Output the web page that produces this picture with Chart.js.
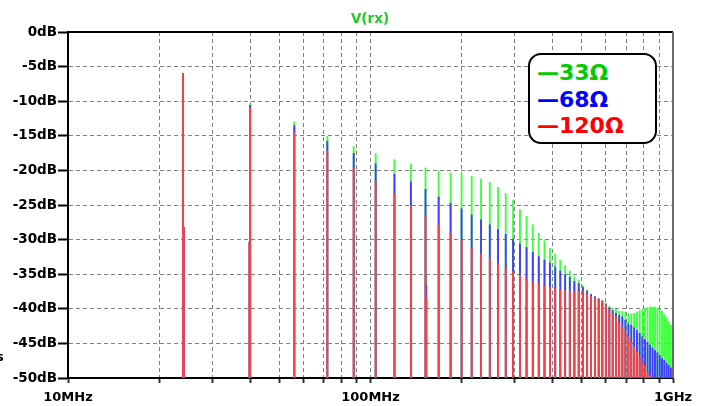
<!DOCTYPE html>
<html>
<head>
<meta charset="utf-8">
<script src="https://cdn.jsdelivr.net/npm/chart.js@4.4.1/dist/chart.umd.min.js"></script>
<style>
  body { margin: 0; background: #fff; }
  #wrap { position: relative; width: 703px; height: 406px; overflow: hidden; }
  #plot { position: absolute; left: 0; top: 0; }
  .txt { position: absolute; font-family: "DejaVu Sans", sans-serif; font-weight: bold; white-space: nowrap; }
  #title { left: 270px; width: 200px; top: 12px; text-align: center; font-size: 13.5px; line-height: 13px; color: #22cc22; }
  #legend { left: 528px; top: 53px; width: 125px; height: 87px; border: 2px solid #000; border-radius: 13px; background: #fff; }
  #legend div { font-size: 22px; line-height: 26.5px; padding-left: 7px; }
  #legend div:first-child { margin-top: 5px; }
  #cut { left: -4px; top: 350px; font-size: 13px; line-height: 13px; color: #000; }
</style>
</head>
<body>
<div id="wrap">
  <canvas id="plot" width="703" height="406"></canvas>
  <div class="txt" id="title">V(rx)</div>
  <div class="txt" id="legend">
    <div style="color:#00cc00">—33Ω</div>
    <div style="color:#0000ff">—68Ω</div>
    <div style="color:#ff0000">—120Ω</div>
  </div>
  <div class="txt" id="cut">s</div>
</div>
<script>
// spectrum lines (odd harmonics of 8MHz), values in dB
const freqMHz = [24, 40, 56, 72, 88, 104, 120, 136, 152, 168, 184, 200, 216, 232, 248, 264,
    280, 296, 312, 328, 344, 360, 376, 392, 408, 424, 440, 456, 472, 488, 504, 520,
    536, 552, 568, 584, 600, 616, 632, 648, 664, 680, 696, 712, 728, 744, 760, 776,
    792, 808, 824, 840, 856, 872, 888, 904, 920, 936, 952, 968, 984, 1000];

const green33 = [-5.9, -10.3, -12.9, -15.0, -16.5, -17.5, -18.4, -19.0, -19.6, -20.0, -20.3, -20.4, -20.8, -21.2, -21.7, -22.4,
    -23.3, -24.3, -25.6, -26.6, -27.8, -29.0, -30.1, -31.2, -32.0, -32.9, -33.7, -34.5, -35.3, -35.8, -36.6, -37.2,
    -37.8, -38.2, -38.5, -38.8, -39.1, -39.6, -39.9, -40.0, -40.3, -40.3, -40.4, -40.6, -40.7, -40.6, -40.4, -40.2,
    -40.0, -39.9, -39.8, -39.7, -39.7, -39.7, -39.8, -40.0, -40.3, -40.8, -41.3, -41.8, -42.3, -43.0];

const blue68 = [-5.95, -10.55, -13.5, -15.75, -17.5, -19.0, -20.5, -21.6, -22.7, -23.8, -24.7, -25.5, -26.4, -27.1, -27.8, -28.5,
    -29.2, -29.9, -30.6, -31.1, -31.8, -32.4, -32.9, -33.3, -33.9, -34.5, -35.0, -35.4, -36.0, -36.3, -36.9, -37.4,
    -37.9, -38.2, -38.5, -38.8, -39.3, -39.8, -40.2, -40.6, -40.9, -41.1, -41.6, -42.1, -42.3, -42.7, -43.1, -43.5,
    -44.0, -44.4, -44.8, -45.2, -45.6, -46.0, -46.3, -46.7, -47.1, -47.4, -47.8, -48.1, -48.5, -48.8];

const red120 = [-6.0, -10.9, -14.55, -17.15, -19.6, -21.5, -23.4, -25.0, -26.6, -27.8, -29.05, -30.05, -31.1, -32.0, -32.7, -33.4,
    -34.1, -34.6, -35.1, -35.6, -36.1, -36.4, -36.6, -36.8, -37.0, -37.2, -37.3, -37.4, -37.5, -37.5, -37.4, -37.8,
    -38.2, -38.4, -38.6, -38.9, -39.4, -40.2, -40.7, -41.1, -41.9, -42.6, -43.3, -44.0, -44.8, -45.5, -46.2, -46.9,
    -47.6, -48.3, -49.0, -49.6, null, null, null, null, null, null, null, null, null, null];

// small side lines next to some harmonics
const sideFreqMHz = [24.15, 39.8, 152.9];
const sideGreen33 = [-28.2, -30.3, -35.0];
const sideBlue68 = [-28.2, -30.3, -36.6];
const sideRed120 = [-28.2, -30.5, -38.4];

// axis ticks
const xGridMHz = [10, 20, 30, 40, 50, 60, 70, 80, 90, 100, 200, 300, 400, 500, 600, 700, 800, 900, 1000];
const xLabelMHz = [10, 100, 1000];
const xLabelText = ['10MHz', '100MHz', '1GHz'];
const yTickDb = [0, -5, -10, -15, -20, -25, -30, -35, -40, -45, -50];

const floorDb = -50;

function lines(freqs, vals, sideFreqs, sideVals) {
    var out = [];
    freqs.forEach(function (f, i) {
        if (vals[i] !== null) out.push({ x: f, y: [floorDb, vals[i]] });
    });
    sideFreqs.forEach(function (f, i) {
        out.push({ x: f, y: [floorDb, sideVals[i]] });
    });
    return out;
}

const axisFont = { family: 'DejaVu Sans', weight: 'bold', size: 13 };

// top and right frame lines
const framePlugin = {
    id: 'frame',
    afterDraw(chart) {
        const ctx = chart.ctx;
        const a = chart.chartArea;
        ctx.save();
        ctx.lineWidth = 2;
        ctx.strokeStyle = '#000';
        ctx.beginPath();
        ctx.moveTo(a.left - 1, a.top);
        ctx.lineTo(a.right, a.top);
        ctx.stroke();
        ctx.strokeStyle = '#6a6a6a';
        ctx.beginPath();
        ctx.moveTo(a.right, a.top);
        ctx.lineTo(a.right, a.bottom);
        ctx.stroke();
        ctx.restore();
    }
};

function lineSet(label, data, color, order) {
    return {
        label: label,
        data: data,
        backgroundColor: color,
        barThickness: 1.9,
        inflateAmount: 0,
        borderWidth: 0,
        order: order
    };
}

// chart constructor
const plotCtx = document.getElementById('plot');
var spectrumChart = new Chart(plotCtx, {
    type: 'bar',
    data: {
        datasets: [
            lineSet('120Ω', lines(freqMHz, red120, sideFreqMHz, sideRed120), '#ff3f3f', 1),
            lineSet('68Ω', lines(freqMHz, blue68, sideFreqMHz, sideBlue68), '#3f3fff', 2),
            lineSet('33Ω', lines(freqMHz, green33, sideFreqMHz, sideGreen33), '#3fff3f', 3)
        ]
    },
    options: {
        responsive: false,
        animation: false,
        events: [],
        devicePixelRatio: 1,
        layout: { padding: { top: 32, right: 30, left: 0, bottom: 0 } },
        plugins: {
            legend: { display: false },
            title: { display: false },
            tooltip: { enabled: false }
        },
        scales: {
            x: {
                type: 'logarithmic',
                min: 10,
                max: 1000,
                stacked: true,
                offset: false,
                afterBuildTicks: function (axis) {
                    axis.ticks = xGridMHz.map(function (v) { return { value: v }; });
                },
                afterFit: function (axis) { axis.height = 28; },
                grid: { offset: false, color: '#808080', lineWidth: 1, tickColor: '#333', tickLength: 5, tickWidth: 2 },
                border: { color: '#000', width: 2, dash: [4, 3] },
                ticks: {
                    autoSkip: false,
                    maxRotation: 0,
                    padding: 7,
                    color: '#000',
                    font: axisFont,
                    callback: function (v) {
                        var i = xLabelMHz.indexOf(v);
                        return i >= 0 ? xLabelText[i] : '';
                    }
                }
            },
            y: {
                type: 'linear',
                min: -50,
                max: 0,
                stacked: false,
                afterBuildTicks: function (axis) {
                    axis.ticks = yTickDb.map(function (v) { return { value: v }; });
                },
                afterFit: function (axis) { axis.width = 68; },
                grid: { color: '#808080', lineWidth: 1, tickColor: '#000', tickLength: 10, tickWidth: 2 },
                border: { color: '#000', width: 2, dash: [4, 3] },
                ticks: {
                    padding: 1,
                    color: '#000',
                    font: { family: 'DejaVu Sans', weight: 'bold', size: 13.5 },
                    callback: function (v) { return v + 'dB'; }
                }
            }
        }
    },
    plugins: [framePlugin]
});
</script>
</body>
</html>
